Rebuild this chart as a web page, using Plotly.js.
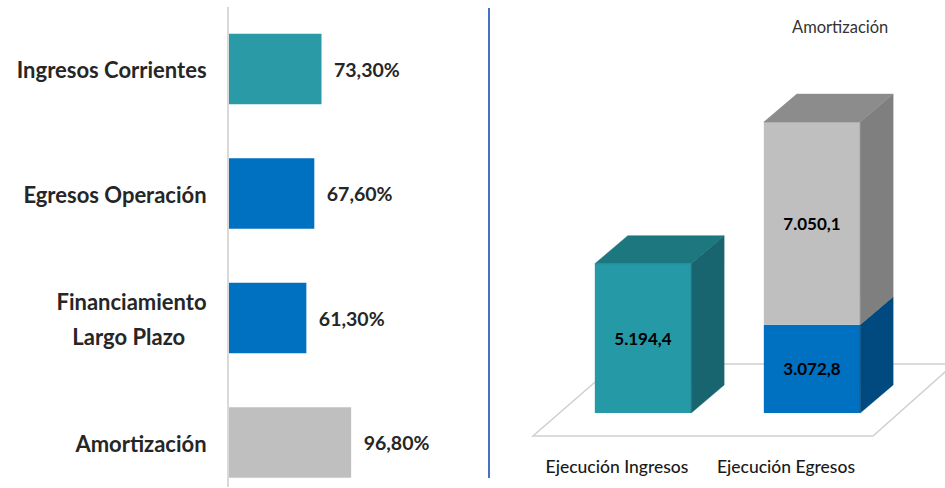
<!DOCTYPE html>
<html>
<head>
<meta charset="utf-8">
<script src="https://cdn.plot.ly/plotly-3.0.1.min.js"></script>
<style>
html,body{margin:0;padding:0;background:#fff;}
#chart{width:945px;height:488px;}
</style>
</head>
<body>
<div id="chart"></div>
<script>
// ---------- data ----------
const leftCats   = ['Ingresos Corrientes', 'Egresos Operación', 'Financiamiento<br>Largo Plazo', 'Amortización'];
const leftVals   = [73.3, 67.6, 61.3, 96.8];
const leftColors = ['#2A9AA6', '#0070C0', '#0070C0', '#BFBFBF'];

const rightCats     = ['Ejecución Ingresos', 'Ejecución Egresos'];
const ingresosVals  = [5194.4, 0];
const egresosVals   = [0, 3072.8];
const amortVals     = [0, 7050.1];
const legendTitle   = 'Amortización';

// ---------- style ----------
const FONT = 'Lato, "Open Sans", sans-serif';
const TXT = '#262626';
const W = 945, H = 488;
// right panel geometry (axis units)
const barW = 0.57;
const depthX = 0.195;   // x-units
const depthY = 975;     // y-units

const traces = [];

// left horizontal bars
traces.push({
  type: 'bar', orientation: 'h',
  x: leftVals, y: leftCats,
  xaxis: 'x', yaxis: 'y',
  width: 0.565,
  marker: {color: leftColors},
  texttemplate: '\u00a0\u00a0%{x:.2f}%',
  textposition: 'outside',
  cliponaxis: false,
  textfont: {family: FONT, size: 19.5, color: TXT, weight: 700},
  hoverinfo: 'skip', showlegend: false
});

// right 3D-style stacked bars
const segs = [
  {name: 'Ingresos', vals: ingresosVals, front: '#2699A6', side: '#19656F', top: '#1C777E'},
  {name: 'Egresos', vals: egresosVals, front: '#0070C0', side: '#004A7F', top: '#00558F'},
  {name: 'Amortización', vals: amortVals, front: '#BFBFBF', side: '#7F7F7F', top: '#8C8C8C'}
];
const xs = rightCats.map((c, i) => i);
const bases = xs.map(() => 0);
const faceTraces = [];
segs.forEach((s, si) => {
  traces.push({
    type: 'bar', x: xs, y: s.vals.map(v => v || null), base: bases.slice(),
    xaxis: 'x2', yaxis: 'y2', width: barW,
    marker: {color: s.front},
    texttemplate: '%{y:,.1f}', textposition: 'inside', insidetextanchor: 'middle',
    textangle: 0,
    textfont: {family: FONT, size: 17, color: '#000', weight: 700},
    hoverinfo: 'skip', showlegend: false, name: s.name
  });
  xs.forEach((xc, i) => {
    const v = s.vals[i];
    if (!v) return;
    const b = bases[i], t = b + v;
    const xr = xc + barW / 2, xl = xc - barW / 2;
    faceTraces.push({
      type: 'scatter', mode: 'lines', fill: 'toself', fillcolor: s.side,
      x: [xr, xr + depthX, xr + depthX, xr, xr],
      y: [b, b + depthY, t + depthY, t, b],
      line: {color: s.side, width: 0.5},
      xaxis: 'x2', yaxis: 'y2', hoverinfo: 'skip', showlegend: false
    });
    // top face only on the highest segment of the column
    const higher = segs.slice(si + 1).some(o => o.vals[i]);
    if (!higher) {
      faceTraces.push({
        type: 'scatter', mode: 'lines', fill: 'toself', fillcolor: s.top,
        x: [xl, xl + depthX, xr + depthX, xr, xl],
        y: [t, t + depthY, t + depthY, t, t],
        line: {color: s.top, width: 0.5},
        xaxis: 'x2', yaxis: 'y2', hoverinfo: 'skip', showlegend: false
      });
    }
    bases[i] = t;
  });
});
faceTraces.forEach(t => traces.push(t));

// left tick labels: 22px glyphs, taller line spacing from a larger base size,
// shorter lines of a multi-line label padded so the block looks centred
const NBSP = '\u00a0';
const leftTickText = leftCats.map(c => {
  const lines = c.split('<br>');
  return lines.map((l, k) => {
    const pad = (lines.length > 1 && k > 0) ? NBSP.repeat(4) : '';
    return `<span style="font-size:22px">${l}${pad}</span>`;
  }).join('<br>');
});

// floor (decoration) in right-axis units
const fy0 = -800, fy1 = 1705;
const floorPath = `M -0.651 ${fy0} L 1.361 ${fy0} L 1.84 ${fy1} L -0.16 ${fy1} Z`;

const layout = {
  width: W, height: H,
  margin: {l: 0, r: 0, t: 0, b: 0},
  paper_bgcolor: '#fff', plot_bgcolor: 'rgba(0,0,0,0)',
  separators: ',.',
  barmode: 'overlay',
  font: {family: FONT, color: TXT},
  showlegend: false,
  xaxis: {
    domain: [229 / W, 480 / W], range: [0, 198.9],
    showgrid: false, zeroline: false, showticklabels: false, showline: false, fixedrange: true
  },
  yaxis: {
    domain: [1 / H, 481 / H],
    type: 'category', categoryorder: 'array', categoryarray: leftCats,
    tickmode: 'array', tickvals: leftCats, ticktext: leftTickText,
    range: [3.357, -0.498],
    showgrid: false, zeroline: false,
    showline: true, linecolor: '#D9D9D9', linewidth: 2,
    ticks: '', ticklabelstandoff: 15,
    tickfont: {family: FONT, size: 27, color: TXT, weight: 700},
    fixedrange: true
  },
  xaxis2: {
    domain: [489 / W, 1], range: [-0.9112, 1.787],
    anchor: 'y2',
    tickvals: xs, ticktext: rightCats,
    ticks: '', ticklabelshift: -26, ticklabelstandoff: 1,
    tickfont: {family: FONT, size: 17.5, color: '#1a1a1a', weight: 500},
    showgrid: false, zeroline: false, showline: false, fixedrange: true
  },
  yaxis2: {
    domain: [35 / H, 1], range: [-1392, 14372],
    anchor: 'x2',
    showgrid: false, zeroline: false, showline: false, showticklabels: false, fixedrange: true
  },
  shapes: [
    {type: 'path', xref: 'x2', yref: 'y2', path: floorPath, layer: 'below',
     fillcolor: '#FFFFFF', line: {color: '#D0D0D0', width: 1.5}},
    {type: 'line', xref: 'paper', yref: 'paper', x0: 489 / W, x1: 489 / W,
     y0: 1 - 478 / H, y1: 1 - 8 / H, line: {color: '#4472C4', width: 2}}
  ],
  annotations: [
    {xref: 'paper', yref: 'paper', x: 840 / W, y: 1 - 27 / H, xanchor: 'center', yanchor: 'middle',
     text: legendTitle, showarrow: false, font: {family: FONT, size: 16.5, color: '#333'}}
  ]
};

Plotly.newPlot('chart', traces, layout, {displayModeBar: false, staticPlot: true});
</script>
</body>
</html>
